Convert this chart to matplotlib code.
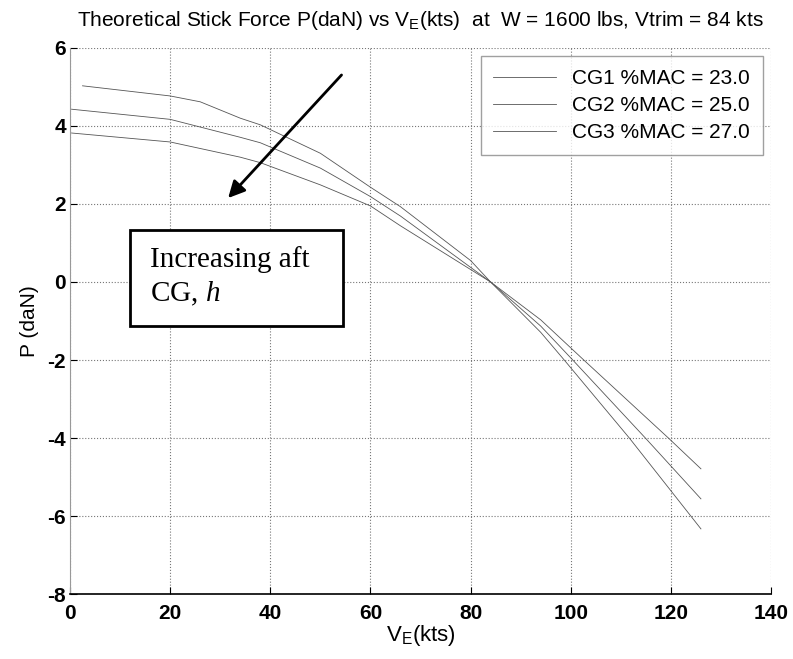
import numpy as np
import matplotlib
matplotlib.use("Agg")
import matplotlib.pyplot as plt
from matplotlib.patches import Rectangle

plt.rcParams['font.family'] = ['Liberation Sans', 'DejaVu Sans']
plt.rcParams['axes.unicode_minus'] = False
plt.rcParams['mathtext.fontset'] = 'custom'
plt.rcParams['mathtext.it'] = 'Liberation Serif:italic'
plt.rcParams['mathtext.rm'] = 'Liberation Sans'

# data: speed V_E (kts), stick force P (daN)
v_cg1 = [2.5, 20, 26, 34, 38, 50, 60, 66, 80, 84, 94, 98.7, 111.7, 126]
p_cg1 = [5.03, 4.77, 4.62, 4.2, 4.03, 3.3, 2.43, 1.93, 0.55, 0.0, -1.29, -2.0, -4.0, -6.33]

v_cg2 = [0.3, 20, 34, 38, 50, 60, 66, 84, 94, 100.4, 114.9, 126]
p_cg2 = [4.43, 4.17, 3.71, 3.57, 2.92, 2.19, 1.69, 0.0, -1.13, -2.0, -4.0, -5.56]

v_cg3 = [0.3, 20, 34, 38, 50, 60, 66, 84, 94, 102.6, 119.5, 126]
p_cg3 = [3.82, 3.59, 3.2, 3.06, 2.49, 1.95, 1.44, 0.0, -0.97, -2.0, -4.0, -4.79]

labels = ['CG1 %MAC = 23.0', 'CG2 %MAC = 25.0', 'CG3 %MAC = 27.0']

fig = plt.figure(figsize=(7.93, 6.59), dpi=100)
ax = fig.add_axes([0.0883, 0.0986, 0.8840, 0.8286])

l1, = ax.plot(v_cg1, p_cg1, color='#555555', lw=0.6)
l2, = ax.plot(v_cg2, p_cg2, color='#555555', lw=0.6)
l3, = ax.plot(v_cg3, p_cg3, color='#555555', lw=0.6)

ax.set_xlim(0, 140)
ax.set_ylim(-8, 6)
ax.set_xticks(range(0, 141, 20))
ax.set_yticks(range(-8, 7, 2))
ax.grid(True, ls=':', color='#777777', lw=0.8)

for s in ['top', 'right']:
    ax.spines[s].set_visible(False)
ax.spines['left'].set_color('#999999')
ax.spines['bottom'].set_color('black')
ax.spines['bottom'].set_linewidth(1.2)
ax.tick_params(direction='in', length=5, labelsize=15, width=0.8, pad=3)
ax.tick_params(axis='x', pad=7)
for t in ax.get_xticklabels() + ax.get_yticklabels():
    t.set_fontweight('bold')

ax.set_title(r'Theoretical Stick Force P(daN) vs $\mathregular{V_E}$(kts)  at  W = 1600 lbs, Vtrim = 84 kts',
             fontsize=15, pad=16)
ax.set_xlabel(r'$\mathregular{V_E}$(kts)', fontsize=16, labelpad=0)
ax.set_ylabel('P (daN)', fontsize=15, labelpad=6)

leg = ax.legend([l1, l2, l3], labels, loc='upper right', fontsize=15,
                frameon=True, fancybox=False, edgecolor='#888888',
                handlelength=3.0, borderaxespad=0.4, labelspacing=0.4,
                borderpad=0.6)
leg.get_frame().set_linewidth(1.0)

# annotation arrow and text box
ax.annotate('', xy=(31.2, 2.1), xytext=(54.6, 5.36),
            arrowprops=dict(arrowstyle='-|>', color='black', lw=2,
                            mutation_scale=25))
ax.add_patch(Rectangle((12, -1.13), 42.6, 2.46, fc='white', ec='black', lw=2, zorder=4))
ax.text(16, 0.12, 'Increasing aft\nCG, $h$', fontsize=21,
        family=['Liberation Serif', 'DejaVu Serif'], va='center', ha='left',
        linespacing=1.3, zorder=5)

fig.savefig('out.png', dpi=100)
